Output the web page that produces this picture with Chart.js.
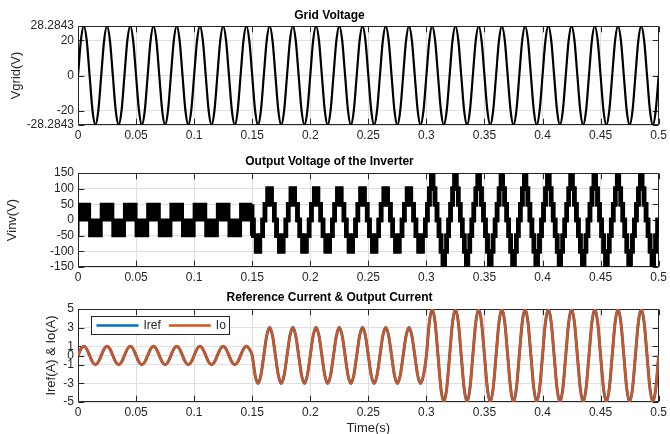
<!DOCTYPE html>
<html>
<head>
<meta charset="utf-8">
<script src="https://cdn.jsdelivr.net/npm/chart.js@4"></script>
<style>
  html, body { margin: 0; padding: 0; background: #fff; }
  body { width: 670px; height: 434px; position: relative; overflow: hidden; }
  .box { position: absolute; left: 0; width: 670px; }
</style>
</head>
<body>
<div class="box" style="top:0;height:145px"><canvas id="c1"></canvas></div>
<div class="box" style="top:145px;height:142px"><canvas id="c2"></canvas></div>
<div class="box" style="top:287px;height:149px"><canvas id="c3"></canvas></div>
<script>
'use strict';

// shared time axis
const xTicks = [0, 0.05, 0.1, 0.15, 0.2, 0.25, 0.3, 0.35, 0.4, 0.45, 0.5];
const period = 0.02;             // 50 Hz, peaks every 0.02 s
const cycles = 25;
const segStart = [0, 0.15, 0.3]; // load steps

// grid voltage, one cycle read at 1/8 period steps
const gridCycle = [0, 20, 28.2843, 20, 0, -20, -28.2843, -20];
const gridTicks = [-28.2843, -20, 0, 20, 28.2843];

// currents (Iref and Io overlap), one normalised cycle and the peak of each segment
const unitCycle = [0, 0.7071, 1, 0.7071, 0, -0.7071, -1, -0.7071];
const currentPeak = [1, 3, 5];
const currentTicks = [-5, -3, -1, 0, 1, 3, 5];

// inverter output: 50 V steps, switch-in phase (fraction of a period) of each step
const cellVolt = 50;
const stepPhase = [[0], [0.05, 0.17], [0.043, 0.13, 0.215]];
const pwmBand = [true, false, false];
const invTicks = [-150, -100, -50, 0, 50, 100, 150];

const FONT = "'Liberation Sans', Arial, Helvetica, sans-serif";
const INK = '#262626';
const GRIDC = '#dfdfdf';

function segOf(t) {
    let s = 0;
    segStart.forEach((v, i) => { if (t >= v - 1e-9) s = i; });
    return s;
}

function sineSeries(shape, ampOf) {
    let pts = [];
    for (let c = 0; c < cycles; c++) {
        shape.forEach((v, j) => {
            let t = c * period + j * period / shape.length;
            pts.push({ x: t, y: v * ampOf(segOf(t)) });
        });
    }
    pts.push({ x: cycles * period, y: 0 });
    return pts;
}

let gridPts = sineSeries(gridCycle, () => 1);
let iPts = sineSeries(unitCycle, s => currentPeak[s]);

// staircase of the inverter, as upper and lower edge of the switching band
let invUpper = [];
let invLower = [];
for (let h = 0; h < cycles * 2; h++) {
    let t0 = h * period / 2;
    let s = segOf(t0);
    let sign = h % 2 === 0 ? 1 : -1;
    let ph = stepPhase[s];
    let pieces = [[0, 0]];
    ph.forEach((p, k) => pieces.push([p, k + 1]));
    for (let k = ph.length - 1; k >= 0; k--) pieces.push([0.5 - ph[k], k]);
    pieces.push([0.5, 0]);
    for (let i = 0; i < pieces.length - 1; i++) {
        let a = t0 + pieces[i][0] * period;
        let b = t0 + pieces[i + 1][0] * period;
        let lvl = sign * pieces[i][1] * cellVolt;
        let up = lvl, lo = lvl;
        if (pwmBand[s]) {
            if (sign > 0) { up = lvl; lo = lvl - cellVolt; }
            else { up = lvl + cellVolt; lo = lvl; }
        }
        invUpper.push({ x: a, y: up }, { x: b, y: up });
        invLower.push({ x: a, y: lo }, { x: b, y: lo });
    }
}

const axesBox = {
    id: 'axesBox',
    beforeDatasetsDraw(chart) {
        const { ctx, chartArea: a, scales: { x, y } } = chart;
        const tl = 5.8;
        let L = Math.round(a.left) + 0.5, R = Math.round(a.right) - 0.5;
        let T = Math.round(a.top) + 0.5, B = Math.round(a.bottom) - 0.5;
        ctx.save();
        ctx.strokeStyle = INK;
        ctx.lineWidth = 1;
        ctx.beginPath();
        x.ticks.forEach(t => {
            let px = Math.round(x.getPixelForValue(t.value)) + 0.5;
            ctx.moveTo(px, B); ctx.lineTo(px, B - tl);
            ctx.moveTo(px, T); ctx.lineTo(px, T + tl);
        });
        y.ticks.forEach(t => {
            let py = Math.round(y.getPixelForValue(t.value)) + 0.5;
            ctx.moveTo(L, py); ctx.lineTo(L + tl, py);
            ctx.moveTo(R, py); ctx.lineTo(R - tl, py);
        });
        ctx.rect(L, T, R - L, B - T);
        ctx.stroke();
        ctx.restore();
    }
};

const boxLegend = {
    id: 'boxLegend',
    afterDatasetsDraw(chart, args, opts) {
        if (!opts.show) return;
        const { ctx, chartArea: a } = chart;
        let x0 = Math.round(a.left) + 13.5, y0 = Math.round(a.top) + 7.5;
        let w = 138, h = 18;
        ctx.save();
        ctx.fillStyle = '#fff';
        ctx.fillRect(x0, y0, w, h);
        ctx.strokeStyle = INK;
        ctx.lineWidth = 1;
        ctx.strokeRect(x0, y0, w, h);
        ctx.font = '12px ' + FONT;
        ctx.textBaseline = 'middle';
        let cx = x0 + 5;
        chart.data.datasets.forEach(ds => {
            ctx.strokeStyle = ds.borderColor;
            ctx.lineWidth = 2.5;
            ctx.beginPath();
            ctx.moveTo(cx, y0 + h / 2);
            ctx.lineTo(cx + 42, y0 + h / 2);
            ctx.stroke();
            ctx.fillStyle = INK;
            ctx.fillText(ds.label, cx + 47, y0 + h / 2 + 0.5);
            cx += 47 + ctx.measureText(ds.label).width + 8;
        });
        ctx.restore();
    }
};

function makeOptions(o) {
    return {
        responsive: true,
        maintainAspectRatio: false,
        animation: false,
        devicePixelRatio: 1,
        layout: { padding: { left: 0, right: 11, top: 0, bottom: 0 } },
        plugins: {
            legend: { display: false },
            tooltip: { enabled: false },
            boxLegend: { show: !!o.legend },
            title: {
                display: true,
                text: o.title,
                color: '#000',
                font: { family: FONT, size: 12, weight: 'bold' },
                padding: { top: o.titleTop, bottom: o.titleBottom },
            },
        },
        scales: {
            x: {
                type: 'linear',
                min: 0,
                max: 0.5,
                afterBuildTicks: s => { s.ticks = xTicks.map(v => ({ value: v })); },
                afterFit: s => { s.height = o.xHeight; },
                ticks: {
                    callback: v => String(+v.toFixed(2)),
                    color: INK,
                    font: { family: FONT, size: 12 },
                    padding: 3,
                    maxRotation: 0,
                    autoSkip: false,
                },
                grid: { color: GRIDC, drawTicks: false },
                border: { display: false },
                title: {
                    display: !!o.xTitle,
                    text: o.xTitle || '',
                    color: INK,
                    font: { family: FONT, size: 13 },
                    padding: 0,
                },
            },
            y: {
                type: 'linear',
                min: o.yTicks[0],
                max: o.yTicks[o.yTicks.length - 1],
                afterBuildTicks: s => { s.ticks = o.yTicks.map(v => ({ value: v })); },
                afterFit: s => { s.width = 78; },
                ticks: {
                    callback: v => String(v),
                    color: INK,
                    font: { family: FONT, size: 12 },
                    padding: 4,
                    autoSkip: false,
                },
                grid: { color: GRIDC, drawTicks: false },
                border: { display: false },
                title: {
                    display: true,
                    text: o.yTitle,
                    color: INK,
                    font: { family: FONT, size: 13 },
                    padding: { top: o.yTitlePad, bottom: 0 },
                },
            },
        },
    };
}

// thinner outline where the switching band is drawn as a filled block
const invWidth = c => (c.p0.parsed.x < segStart[1] - 1e-9 ? 3 : 4.5);

let chart1 = new Chart(document.querySelector('#c1'), {
    type: 'line',
    data: {
        datasets: [
            {
                label: 'Vgrid',
                data: gridPts,
                borderColor: '#000',
                borderWidth: 2.2,
                pointRadius: 0,
                cubicInterpolationMode: 'monotone',
                clip: 0,
            },
        ],
    },
    options: makeOptions({
        title: 'Grid Voltage', titleTop: 8, titleBottom: 3.6, xHeight: 20,
        yTicks: gridTicks, yTitle: 'Vgrid(V)', yTitlePad: 9,
    }),
    plugins: [axesBox, boxLegend],
});

let chart2 = new Chart(document.querySelector('#c2'), {
    type: 'line',
    data: {
        datasets: [
            {
                label: 'Vinv',
                data: invUpper,
                borderColor: '#000',
                backgroundColor: '#000',
                borderWidth: 4.5,
                segment: { borderWidth: invWidth },
                pointRadius: 0,
                tension: 0,
                fill: '+1',
                clip: 0,
            },
            {
                label: 'Vinv low',
                data: invLower,
                borderColor: '#000',
                borderWidth: 4.5,
                segment: { borderWidth: invWidth },
                pointRadius: 0,
                tension: 0,
                fill: false,
                clip: 0,
            },
        ],
    },
    options: makeOptions({
        title: 'Output Voltage of the Inverter', titleTop: 9.8, titleBottom: 3.8, xHeight: 20,
        yTicks: invTicks, yTitle: 'Vinv(V)', yTitlePad: 5,
    }),
    plugins: [axesBox, boxLegend],
});

let chart3 = new Chart(document.querySelector('#c3'), {
    type: 'line',
    data: {
        datasets: [
            {
                label: 'Iref',
                data: iPts,
                borderColor: '#0072BD',
                borderWidth: 3,
                pointRadius: 0,
                cubicInterpolationMode: 'monotone',
                order: 1,
                clip: 0,
            },
            {
                label: 'Io',
                data: iPts,
                borderColor: '#D95319',
                borderWidth: 2.5,
                pointRadius: 0,
                cubicInterpolationMode: 'monotone',
                order: 0,
                clip: 0,
            },
        ],
    },
    options: makeOptions({
        title: 'Reference Current & Output Current', titleTop: 3.8, titleBottom: 3.8, xHeight: 34,
        yTicks: currentTicks, yTitle: 'Iref(A) & Io(A)', yTitlePad: 44, xTitle: 'Time(s)', legend: true,
    }),
    plugins: [axesBox, boxLegend],
});
</script>
</body>
</html>
